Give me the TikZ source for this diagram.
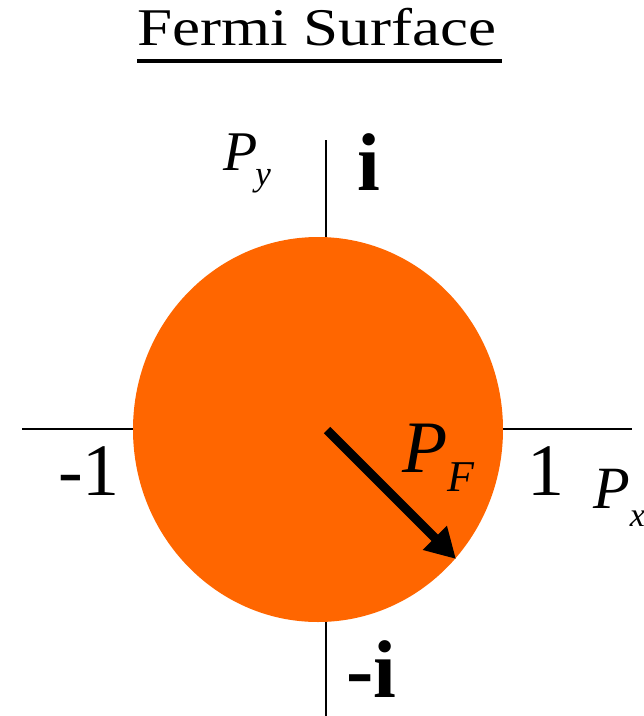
\documentclass[tikz,border=0pt]{standalone}
\usepackage{fontspec}
\setmainfont{Liberation Serif}
\usepackage{xcolor}
\definecolor{cFermi}{HTML}{FF6600}
\usetikzlibrary{arrows.meta}
\tikzset{
  axis-line/.style={draw=black,line width=1.6pt},
  sea/.style={fill=cFermi,draw=none},
  lbl/.style={inner sep=0pt,anchor=base west},
  arrow-pf/.style={-{Triangle[length=30pt,width=32pt]},line width=9pt,draw=black},
}
% momentum label: size of P, size of index, kern, drop, index
\newcommand\momlbl[5]{{\itshape\fontsize{#1}{#1}\selectfont P\kern#3pt%
  \raisebox{-#4pt}{\fontsize{#2}{#2}\selectfont #5}}}
\begin{document}
\begin{tikzpicture}[x=1pt,y=-1pt]
  \useasboundingbox (0,0) rectangle (644,716);
  % axes
  \coordinate (xl) at (22,429);
  \coordinate (xr) at (632,429);
  \coordinate (yt) at (326,140);
  \coordinate (yb) at (326,716);
  \draw[axis-line] (xl) -- (xr);
  \draw[axis-line] (yt) -- (yb);
  % Fermi sea
  \coordinate (o) at (318,429.5);
  \fill[sea] (o) ellipse [x radius=185,y radius=192.5];
  % title
  \node[lbl,font=\fontsize{53}{53}\selectfont] (title) at (137,45)
    {\scalebox{1.19}[1]{Fermi Surface}};
  \draw[line width=4pt] (title.base west) ++(0,16) -- ++(365,0);
  % labels
  \node[lbl] (py) at (223,170) {\momlbl{56}{35}{-2}{15}{y}};
  \node[lbl,font=\fontsize{82}{82}\selectfont\bfseries] (ip) at (357,190) {i};
  \node[lbl,font=\fontsize{74}{74}\selectfont] (m1) at (58,495) {-1};
  \node[lbl,font=\fontsize{74}{74}\selectfont] (p1) at (527,495) {1};
  \node[lbl] (px) at (593,508) {\momlbl{60}{34}{0}{18}{x}};
  \node[lbl] (pf) at (402,472) {\momlbl{74}{44}{0}{19}{F}};
  \node[lbl,font=\fontsize{82}{82}\selectfont\bfseries] (im) at (346,697) {-i};
  % radius
  \coordinate (tip) at (456,559);
  \draw[arrow-pf] (o) ++(9,0.5) -- (tip);
\end{tikzpicture}
\end{document}
